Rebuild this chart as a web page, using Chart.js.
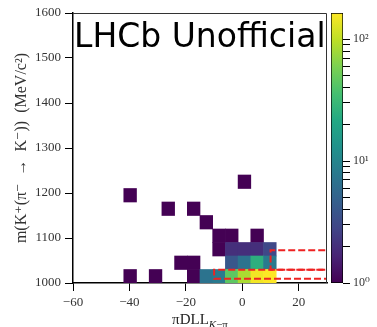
<!DOCTYPE html>
<html>
<head>
<meta charset="utf-8">
<script src="https://cdn.jsdelivr.net/npm/chart.js@4.4.1/dist/chart.umd.min.js"></script>
<style>
  html, body { margin: 0; padding: 0; background: #fff; }
  #wrap { position: relative; width: 377px; height: 327px; overflow: hidden; }
  canvas { position: absolute; top: 0; }
  #main { left: 0; }
  #cbar { left: 326px; }
  .lbl { position: absolute; white-space: nowrap; }
  #tag { left: 74px; top: 19px; font: 33px/33px 'DejaVu Sans', sans-serif; color: #000; }
  #xtitle { left: 73px; width: 254px; top: 312px; text-align: center; font: 15px/15px 'Liberation Serif', serif; color: #222; }
  #xtitle span { font-size: 11px; position: relative; top: 4px; }
</style>
</head>
<body>
<div id="wrap">
  <canvas id="main" width="330" height="327"></canvas>
  <canvas id="cbar" width="51" height="327"></canvas>
  <div class="lbl" id="tag">LHCb Unofficial</div>
  <div class="lbl" id="xtitle">πDLL<span><i>K</i>−π</span></div>
</div>
<script>
// 2D histogram, 20 x 20 bins over DLL [-60, 30] and mass [1000, 1600]
const binWidth = 4.5;
const binHeight = 30;

// lower bin edges of the filled bins and their entries
const cellDLL = [
  -42, -1.5, -28.5, -19.5, -15,
  -10.5, -6, 3,
  -10.5, -6, -1.5, 3, 7.5,
  -24, -19.5, -6, -1.5, 3, 7.5,
  -42, -33, -19.5, -15, -10.5, -6, -1.5, 3, 7.5
];
const cellMass = [
  1180, 1210, 1150, 1150, 1120,
  1090, 1090, 1090,
  1060, 1060, 1060, 1060, 1060,
  1030, 1030, 1030, 1030, 1030, 1030,
  1000, 1000, 1000, 1000, 1000, 1000, 1000, 1000, 1000
];
const cellCount = [
  1, 1, 1, 1, 1,
  1, 1, 1,
  1, 2, 2, 2, 3,
  1, 1, 4, 7, 25, 8,
  1, 1, 1, 7, 8, 45, 85, 150, 164
];

// selection boxes (open towards high DLL)
const boxDLLMin = [10, -10];
const boxDLLMax = [40, 40];
const boxMassMin = [1029.5, 1009.5];
const boxMassMax = [1073, 1029.5];

// axes
const xTicks = [-60, -40, -20, 0, 20];
const yTicks = [1000, 1100, 1200, 1300, 1400, 1500, 1600];
const cbarMax = 164;
const cbarTicks = [1, 2, 3, 4, 5, 6, 7, 8, 9, 10, 20, 30, 40, 50, 60, 70, 80, 90, 100];
const cbarMajor = [1, 10, 100];
const cbarMajorLabels = ['10⁰', '10¹', '10²'];

const viridis = ['#440154', '#482475', '#414487', '#355f8d', '#2a788e', '#21918c',
                 '#22a884', '#44bf70', '#7ad151', '#bddf26', '#fde725'];

function hexRgb(h) {
  return [1, 3, 5].map(i => parseInt(h.slice(i, i + 2), 16));
}
function viridisAt(t) {
  t = Math.max(0, Math.min(1, t));
  const p = t * (viridis.length - 1);
  const i = Math.min(viridis.length - 2, Math.floor(p));
  const f = p - i;
  const a = hexRgb(viridis[i]), b = hexRgb(viridis[i + 1]);
  const c = a.map((v, k) => Math.round(v + (b[k] - v) * f));
  return `rgb(${c[0]},${c[1]},${c[2]})`;
}

const serif = "'Liberation Serif', 'DejaVu Serif', serif";
const labelInk = '#333';

const frame = {
  id: 'frame',
  afterDraw(chart) {
    const { ctx, chartArea: a } = chart;
    ctx.save();
    ctx.strokeStyle = '#333';
    ctx.lineWidth = 1;
    ctx.beginPath();
    ctx.moveTo(a.left, a.top + 0.5);
    ctx.lineTo(a.right - 0.5, a.top + 0.5);
    ctx.lineTo(a.right - 0.5, a.bottom);
    ctx.stroke();
    ctx.restore();
  }
};

const boxSets = boxDLLMin.map((x0, k) => ({
  type: 'line',
  data: [
    { x: boxDLLMax[k], y: boxMassMax[k] },
    { x: x0, y: boxMassMax[k] },
    { x: x0, y: boxMassMin[k] },
    { x: boxDLLMax[k], y: boxMassMin[k] }
  ],
  borderColor: '#ee2222',
  borderWidth: 2,
  borderDash: [7, 3],
  pointRadius: 0,
  fill: false,
  tension: 0,
  clip: 0,
  order: 0
}));

new Chart(document.getElementById('main'), {
  type: 'bar',
  data: {
    datasets: [
      ...boxSets,
      {
        data: cellCount.map((c, k) => ({ y: cellMass[k] + binHeight / 2, x: [cellDLL[k], cellDLL[k] + binWidth] })),
        backgroundColor: cellCount.map(c => viridisAt(Math.log(c) / Math.log(cbarMax))),
        borderWidth: 0,
        categoryPercentage: 1,
        barPercentage: 1,
        order: 1
      }
    ]
  },
  options: {
    indexAxis: 'y',
    responsive: false,
    animation: false,
    devicePixelRatio: 1,
    layout: { padding: { top: 13, right: 3, left: 0, bottom: 0 } },
    plugins: { legend: { display: false }, tooltip: { enabled: false } },
    scales: {
      x: {
        type: 'linear', min: -60, max: 30, offset: false,
        afterBuildTicks: s => { s.ticks = xTicks.map(v => ({ value: v })); },
        afterFit: s => { s.height = 44; },
        ticks: {
          callback: v => v < 0 ? '\u2212' + Math.abs(v) : String(v),
          font: { family: serif, size: 13 }, color: labelInk, padding: 4,
          autoSkip: false, maxRotation: 0
        },
        grid: { drawOnChartArea: false, tickLength: 8, color: '#000', offset: false },
        border: { color: '#000', width: 1.5 }
      },
      y: {
        type: 'linear', min: 1000, max: 1600, offset: false,
        afterBuildTicks: s => { s.ticks = yTicks.map(v => ({ value: v })); },
        afterFit: s => { s.width = 73; },
        ticks: {
          callback: v => String(v),
          font: { family: serif, size: 13 }, color: labelInk, padding: 4, autoSkip: false
        },
        grid: { drawOnChartArea: false, tickLength: 8, color: '#000', offset: false },
        border: { color: '#000', width: 1.5 },
        title: {
          display: true,
          text: 'm(K⁺(π⁻  →  K⁻))  (MeV/c²)',
          font: { family: serif, size: 16 },
          color: labelInk,
          padding: { top: 12 }
        }
      }
    }
  },
  plugins: [frame]
});

new Chart(document.getElementById('cbar'), {
  type: 'bar',
  data: {
    labels: [''],
    datasets: [{
      data: [[1, cbarMax]],
      backgroundColor: c => {
        const a = c.chart.chartArea;
        if (!a) return viridis[5];
        const g = c.chart.ctx.createLinearGradient(0, a.bottom, 0, a.top);
        viridis.forEach((col, k) => g.addColorStop(k / (viridis.length - 1), col));
        return g;
      },
      borderColor: '#000',
      borderWidth: 1,
      borderSkipped: false,
      categoryPercentage: 1,
      barPercentage: 1
    }]
  },
  options: {
    responsive: false,
    animation: false,
    devicePixelRatio: 1,
    layout: { padding: { top: 13, bottom: 44, left: 5, right: 0 } },
    plugins: { legend: { display: false }, tooltip: { enabled: false } },
    scales: {
      x: { display: false },
      y: {
        type: 'logarithmic', position: 'right', min: 1, max: cbarMax,
        afterBuildTicks: s => { s.ticks = cbarTicks.map(v => ({ value: v })); },
        afterFit: s => { s.width = 34; },
        ticks: {
          callback: v => {
            const k = cbarMajor.indexOf(v);
            return k >= 0 ? cbarMajorLabels[k] : '';
          },
          autoSkip: false,
          font: { family: serif, size: 12 }, color: labelInk, padding: 3
        },
        grid: { drawOnChartArea: false, tickLength: 7, color: '#000' },
        border: { display: false }
      }
    }
  }
});
</script>
</body>
</html>
